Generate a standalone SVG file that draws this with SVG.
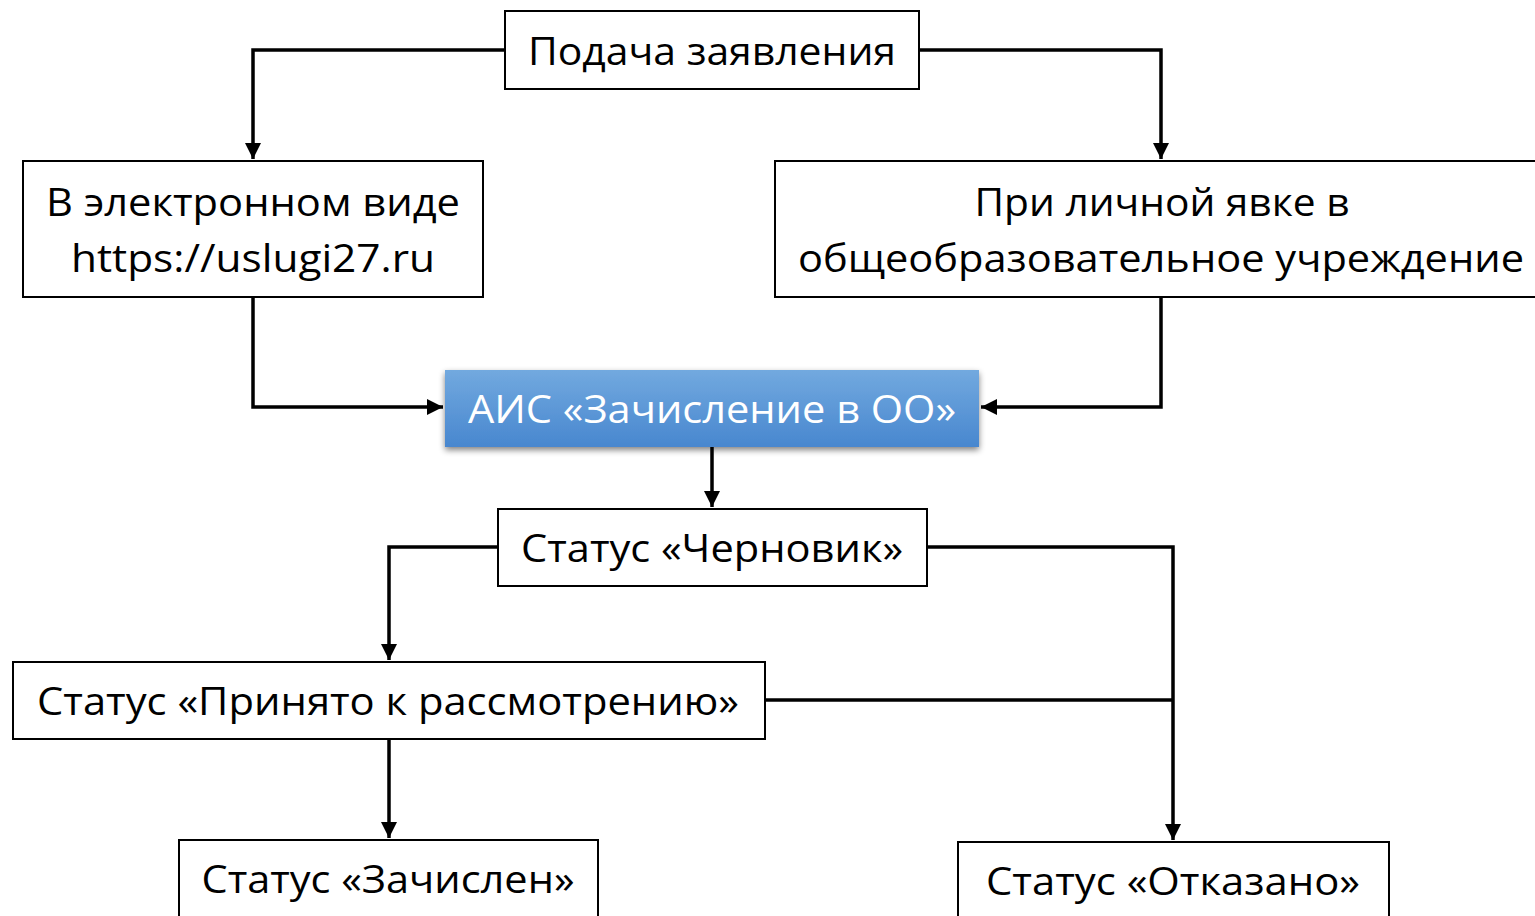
<svg xmlns="http://www.w3.org/2000/svg" width="1535" height="916" viewBox="0 0 1535 916">
<defs>
<linearGradient id="blue" x1="0" y1="0" x2="0" y2="1">
<stop offset="0" stop-color="#72a9df"/>
<stop offset="1" stop-color="#4887cf"/>
</linearGradient>
<filter id="sh" x="-10%" y="-20%" width="120%" height="150%">
<feGaussianBlur in="SourceAlpha" stdDeviation="3"/>
<feOffset dx="0" dy="3" result="b"/>
<feComponentTransfer><feFuncA type="linear" slope="0.5"/></feComponentTransfer>
<feMerge><feMergeNode/><feMergeNode in="SourceGraphic"/></feMerge>
</filter>
<marker id="arr" viewBox="0 0 10 10" refX="10" refY="5" markerWidth="4.6" markerHeight="4.6" orient="auto" markerUnits="strokeWidth">
<path d="M0,0 L10,5 L0,10 z" fill="#000"/>
</marker>
</defs>
<style>
.box{fill:#fff;stroke:#000;stroke-width:2}
.t{font-family:"Open Sans","Noto Sans","Liberation Sans",sans-serif;font-size:39px;fill:#000;text-anchor:middle}
.w{fill:#fff}
.c{fill:none;stroke:#000;stroke-width:3.5;marker-end:url(#arr)}
.n{fill:none;stroke:#000;stroke-width:3.5}
</style>
<rect width="1535" height="916" fill="#fff"/>
<g id="connectors">
<path class="c" d="M505,50 H253 V159"/>
<path class="c" d="M919,50 H1161 V159"/>
<path class="c" d="M253,297 V407 H443"/>
<path class="c" d="M1161,297 V407 H981"/>
<path class="c" d="M712,447 V507"/>
<path class="c" d="M498,547 H389 V660"/>
<path class="c" d="M927,547 H1173 V840"/>
<path class="n" d="M765,700 H1173"/>
<path class="c" d="M389,739 V838"/>
</g>
<g id="n1"><rect class="box" x="505" y="11" width="414" height="78"/><text class="t" x="712" y="65" textLength="368" lengthAdjust="spacingAndGlyphs">Подача заявления</text></g>
<g id="n2"><rect class="box" x="23" y="161" width="460" height="136"/><text class="t" x="253" y="216" textLength="414" lengthAdjust="spacingAndGlyphs">В электронном виде</text><text class="t" x="253" y="272" textLength="364" lengthAdjust="spacingAndGlyphs">https://uslugi27.ru</text></g>
<g id="n3"><rect class="box" x="775" y="161" width="770" height="136"/><text class="t" x="1162" y="216" textLength="375" lengthAdjust="spacingAndGlyphs">При личной явке в</text><text class="t" x="1161" y="272" textLength="726" lengthAdjust="spacingAndGlyphs">общеобразовательное учреждение</text></g>
<g id="n4"><rect x="445" y="370" width="534" height="77" fill="url(#blue)" filter="url(#sh)"/><text class="t w" x="712" y="423" textLength="488" lengthAdjust="spacingAndGlyphs">АИС «Зачисление в ОО»</text></g>
<g id="n5"><rect class="box" x="498" y="509" width="429" height="77"/><text class="t" x="712" y="562" textLength="382" lengthAdjust="spacingAndGlyphs">Статус «Черновик»</text></g>
<g id="n6"><rect class="box" x="13" y="662" width="752" height="77"/><text class="t" x="388" y="715" textLength="702" lengthAdjust="spacingAndGlyphs">Статус «Принято к рассмотрению»</text></g>
<g id="n7"><rect class="box" x="179" y="840" width="419" height="90"/><text class="t" x="388" y="893" textLength="373" lengthAdjust="spacingAndGlyphs">Статус «Зачислен»</text></g>
<g id="n8"><rect class="box" x="958" y="842" width="431" height="90"/><text class="t" x="1173" y="895" textLength="374" lengthAdjust="spacingAndGlyphs">Статус «Отказано»</text></g>
</svg>
